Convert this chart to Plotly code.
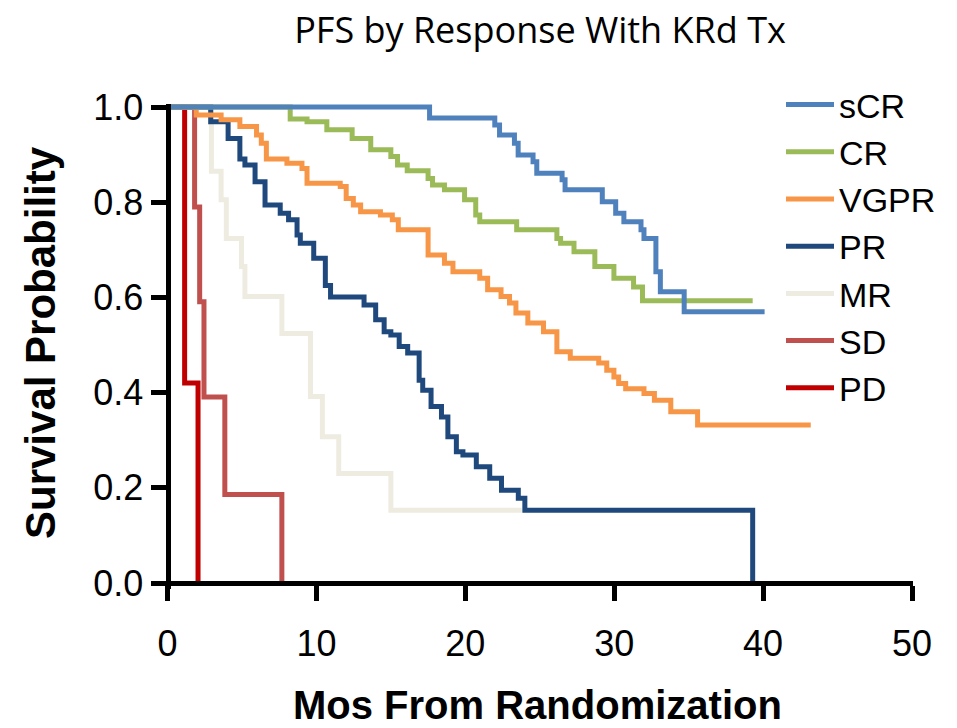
import plotly.graph_objects as go

# ---- data (months, survival probability) ----
sCR_t = [0, 17.6, 21.98, 22.3, 23.3, 23.55, 24.55, 24.8, 26.5, 26.7, 29.2, 30.1, 30.65, 31.8, 32.0, 32.8, 33.1, 34.7, 40.1]
sCR_s = [1.0, 0.977, 0.962, 0.941, 0.924, 0.899, 0.885, 0.861, 0.847, 0.826, 0.801, 0.777, 0.759, 0.742, 0.724, 0.654, 0.612, 0.570, 0.570]

CR_t = [0, 8.24, 9.37, 10.7, 12.4, 13.65, 15.0, 15.45, 16.1, 17.5, 17.8, 18.6, 19.95, 20.7, 20.97, 23.45, 26.15, 26.4, 27.3, 28.7, 29.98, 31.3, 31.9, 39.3]
CR_s = [1.0, 0.975, 0.969, 0.952, 0.934, 0.910, 0.896, 0.878, 0.866, 0.850, 0.836, 0.826, 0.805, 0.773, 0.759, 0.742, 0.724, 0.714, 0.696, 0.665, 0.640, 0.622, 0.593, 0.593]

VGPR_t = [0, 1.93, 3.6, 4.86, 5.98, 6.3, 6.64, 8.02, 9.03, 9.37, 11.6, 12.0, 12.48, 12.97, 14.3, 15.1, 15.5, 17.5, 18.6, 19.17,
          20.97, 21.5, 22.4, 22.97, 23.4, 24.2, 25.25, 26.15, 27.05, 28.96, 29.5, 29.98, 30.3, 30.77, 32.0, 32.7, 33.8, 35.6, 43.2]
VGPR_s = [1.0, 0.983, 0.973, 0.959, 0.941, 0.924, 0.891, 0.882, 0.871, 0.840, 0.833, 0.808, 0.794, 0.780, 0.773, 0.763, 0.742, 0.689, 0.672, 0.654,
          0.640, 0.616, 0.602, 0.588, 0.567, 0.546, 0.528, 0.486, 0.472, 0.462, 0.447, 0.433, 0.419, 0.408, 0.398, 0.384, 0.360, 0.332, 0.332]

PR_t = [0, 2.9, 4.07, 4.86, 5.2, 5.88, 6.55, 7.57, 8.13, 8.7, 8.92, 9.82, 10.6, 10.95, 13.2, 13.98, 14.55, 15.0, 15.56, 16.13,
        16.9, 17.14, 17.7, 18.4, 18.83, 19.4, 19.84, 20.74, 21.64, 22.43, 23.56, 24.0, 39.3]
PR_s = [1.0, 0.969, 0.934, 0.891, 0.878, 0.843, 0.794, 0.777, 0.763, 0.731, 0.714, 0.682, 0.625, 0.601, 0.584, 0.553, 0.528, 0.521, 0.497, 0.483,
        0.426, 0.405, 0.371, 0.349, 0.307, 0.276, 0.269, 0.244, 0.220, 0.195, 0.178, 0.153, 0.0]

MR_t = [0, 2.95, 3.6, 3.95, 4.97, 5.2, 7.68, 9.6, 10.4, 11.5, 15.0, 23.8]
MR_s = [1.0, 0.865, 0.805, 0.724, 0.665, 0.602, 0.524, 0.392, 0.307, 0.230, 0.153, 0.153]

SD_t = [0, 1.82, 2.16, 2.45, 3.85, 7.68]
SD_s = [1.0, 0.790, 0.591, 0.391, 0.186, 0.0]

PD_t = [0, 1.15, 2.05]
PD_s = [1.0, 0.42, 0.0]

series_names = ["sCR", "CR", "VGPR", "PR", "MR", "SD", "PD"]
series_t = [sCR_t, CR_t, VGPR_t, PR_t, MR_t, SD_t, PD_t]
series_s = [sCR_s, CR_s, VGPR_s, PR_s, MR_s, SD_s, PD_s]
colors = ["#4F81BD", "#9BBB59", "#F79646", "#1F497D", "#EEECE1", "#C0504D", "#C00000"]

x_ticks = [0, 10, 20, 30, 40, 50]
y_ticks = [0.0, 0.2, 0.4, 0.6, 0.8, 1.0]

fig = go.Figure()
# draw in reverse so sCR is on top; legend reversed to keep sCR first
for name, t, s, c in reversed(list(zip(series_names, series_t, series_s, colors))):
    fig.add_trace(go.Scatter(x=t, y=s, mode="lines", name=name,
                             line=dict(color=c, width=5, shape="hv")))

# plotting geometry
L, R, T, B = 160, 44, 104, 139
W, H = 957, 728
pw, ph = W - L - R, H - T - B
xr = [-0.504, 50.067]
yr = [-0.0126, 1.0063]
ypos_x0 = (0 - xr[0]) / (xr[1] - xr[0])
xpos_y0 = (0 - yr[0]) / (yr[1] - yr[0])

axis_font = dict(family="Liberation Sans, Arial, sans-serif", size=36, color="black")

fig.update_layout(
    width=W, height=H,
    margin=dict(l=L, r=R, t=T, b=B),
    paper_bgcolor="white", plot_bgcolor="white",
    title=dict(text="PFS by Response With KRd Tx", x=540 / W, y=1 - 30 / H,
               xref="container", yref="container", xanchor="center", yanchor="middle",
               font=dict(family="Open Sans, Lato, sans-serif", size=36, color="black")),
    xaxis=dict(range=xr, anchor="free", position=xpos_y0, showline=True, linecolor="black", linewidth=5,
               ticks="outside", ticklen=15, tickwidth=5, tickcolor="black", tickvals=x_ticks,
               ticktext=[str(v) for v in x_ticks], tickfont=axis_font, ticklabelstandoff=12,
               showgrid=False, zeroline=False, fixedrange=True),
    yaxis=dict(range=yr, anchor="free", position=ypos_x0, showline=True, linecolor="black", linewidth=5,
               ticks="outside", ticklen=15, tickwidth=5, tickcolor="black", tickvals=y_ticks,
               ticktext=[f"{v:.1f}" for v in y_ticks], tickfont=axis_font,
               showgrid=False, zeroline=False, fixedrange=True),
    legend=dict(traceorder="reversed", x=(781 - L) / pw, y=(H - B - 76) / ph, xanchor="left", yanchor="top",
                font=dict(family="Liberation Sans, Arial, sans-serif", size=34, color="black"),
                bgcolor="rgba(0,0,0,0)", itemwidth=48),
    showlegend=True,
    annotations=[
        dict(text="<b>Survival Probability</b>", xref="paper", yref="paper",
             x=(40 - L) / pw, y=(H - B - 343) / ph, textangle=-90, showarrow=False,
             xanchor="center", yanchor="middle",
             font=dict(family="Liberation Sans, Arial, sans-serif", size=42, color="black")),
        dict(text="<b>Mos From Randomization</b>", xref="paper", yref="paper",
             x=(537 - L) / pw, y=(H - B - 705) / ph, showarrow=False,
             xanchor="center", yanchor="middle",
             font=dict(family="Liberation Sans, Arial, sans-serif", size=40, color="black")),
    ],
)

fig.write_html("out.html")
